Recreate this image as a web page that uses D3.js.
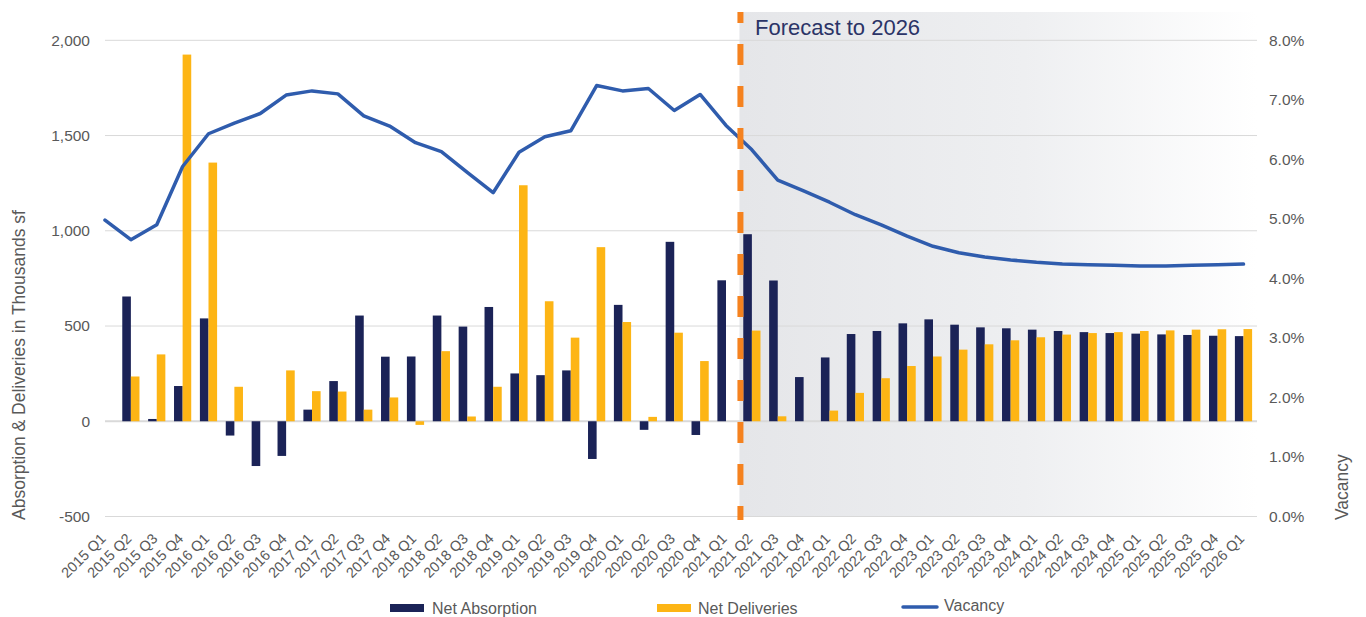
<!DOCTYPE html>
<html>
<head>
<meta charset="utf-8">
<script src="https://cdn.jsdelivr.net/npm/d3@7/dist/d3.min.js"></script>
<style>
  html, body { margin: 0; padding: 0; background: #ffffff; }
  svg { display: block; font-family: "Liberation Sans", Arial, sans-serif; }
</style>
</head>
<body>
<svg id="chart" width="1366" height="617"></svg>
<script>
// ---------------- data ----------------
const categories = [
  "2015 Q1","2015 Q2","2015 Q3","2015 Q4",
  "2016 Q1","2016 Q2","2016 Q3","2016 Q4",
  "2017 Q1","2017 Q2","2017 Q3","2017 Q4",
  "2018 Q1","2018 Q2","2018 Q3","2018 Q4",
  "2019 Q1","2019 Q2","2019 Q3","2019 Q4",
  "2020 Q1","2020 Q2","2020 Q3","2020 Q4",
  "2021 Q1","2021 Q2","2021 Q3","2021 Q4",
  "2022 Q1","2022 Q2","2022 Q3","2022 Q4",
  "2023 Q1","2023 Q2","2023 Q3","2023 Q4",
  "2024 Q1","2024 Q2","2024 Q3","2024 Q4",
  "2025 Q1","2025 Q2","2025 Q3","2025 Q4",
  "2026 Q1"
];
// thousands sf
const netAbsorption = [
  0, 655, 12, 185,
  540, -75, -235, -182,
  61, 211, 555, 339,
  340, 555, 497, 600,
  251, 242, 267, -198,
  611, -45, 942, -72,
  740, 982, 739, 232,
  335, 458, 474, 514,
  535, 507, 493, 488,
  481, 474, 468, 463,
  460, 456, 453, 449,
  447
];
const netDeliveries = [
  0, 235, 351, 1925,
  1358, 181, 0, 267,
  158, 156, 61, 125,
  -19, 368, 25, 181,
  1239, 630, 439, 914,
  521, 23, 465, 316,
  0, 476, 26, 0,
  56, 149, 226, 290,
  340, 376, 404, 425,
  441, 455, 463, 468,
  474, 477, 481, 483,
  484
];
// vacancy rate (%)
const vacancy = [
  4.98, 4.65, 4.90, 5.88,
  6.43, 6.61, 6.77, 7.08,
  7.15, 7.10, 6.73, 6.56,
  6.28, 6.13, 5.78, 5.44,
  6.12, 6.38, 6.48, 7.24,
  7.15, 7.19, 6.82, 7.09,
  6.57, 6.16, 5.65, 5.47,
  5.28, 5.07, 4.90, 4.71,
  4.54, 4.43, 4.36, 4.31,
  4.27, 4.24, 4.23, 4.22,
  4.21, 4.21, 4.22, 4.23,
  4.24
];
const leftTicks = [-500, 0, 500, 1000, 1500, 2000];
const rightTicks = [0, 1, 2, 3, 4, 5, 6, 7, 8];
const forecastStart = "2021 Q2";
const forecastLabel = "Forecast to 2026";
const leftTitle = "Absorption & Deliveries in Thousands sf";
const rightTitle = "Vacancy";
const legendItems = ["Net Absorption", "Net Deliveries", "Vacancy"];

// ---------------- styles ----------------
const C = {
  navy: "#1b2357",
  yellow: "#fdb515",
  line: "#2f5cad",
  orange: "#f5821f",
  grid: "#d9d9d9",
  text: "#595959",
  fc: "#2b3467"
};

const svg = d3.select("#chart");
const plotL = 105, plotR = 1257, plotT = 40.3, plotB = 516.5;

const x = d3.scalePoint().domain(categories).range([105, 1243.5]);
const step = x.step();
const yL = d3.scaleLinear().domain([-500, 2000]).range([plotB, plotT]);
const yR = d3.scaleLinear().domain([0, 8]).range([plotB, plotT]);
const barW = 8.6;

// gradient for forecast area
const defs = svg.append("defs");
const grad = defs.append("linearGradient").attr("id", "fcGrad")
  .attr("x1", "0%").attr("x2", "100%").attr("y1", "0%").attr("y2", "0%");
grad.append("stop").attr("offset", "0%").attr("stop-color", "#e5e6e9");
grad.append("stop").attr("offset", "55%").attr("stop-color", "#eeeff1");
grad.append("stop").attr("offset", "100%").attr("stop-color", "#ffffff");

const fcX = x(forecastStart) - step / 2 + 0.5;
svg.append("rect")
  .attr("x", fcX).attr("y", 12)
  .attr("width", plotR - fcX).attr("height", plotB - 12)
  .attr("fill", "url(#fcGrad)");

// gridlines
svg.append("g").selectAll("line").data(leftTicks).join("line")
  .attr("x1", plotL).attr("x2", plotR)
  .attr("y1", d => yL(d)).attr("y2", d => yL(d))
  .attr("stroke", C.grid)
  .attr("stroke-width", d => d === 0 ? 2 : 1);

// left axis labels
const fmtL = d => d3.format(",")(d).replace("\u2212", "-");
svg.append("g").selectAll("text").data(leftTicks).join("text")
  .attr("x", 90).attr("y", d => yL(d)).attr("dy", "0.35em")
  .attr("text-anchor", "end").attr("fill", C.text)
  .style("font-size", "15.5px")
  .text(fmtL);

// right axis labels
svg.append("g").selectAll("text").data(rightTicks).join("text")
  .attr("x", 1269).attr("y", d => yR(d)).attr("dy", "0.35em")
  .attr("text-anchor", "start").attr("fill", C.text)
  .style("font-size", "15.5px")
  .text(d => d3.format(".1f")(d) + "%");

// bars
const gBars = svg.append("g");
gBars.selectAll("rect.abs").data(categories).join("rect").attr("class", "abs")
  .attr("x", (d) => x(d) - barW)
  .attr("width", barW)
  .attr("y", (d, i) => Math.min(yL(netAbsorption[i]), yL(0)))
  .attr("height", (d, i) => Math.abs(yL(netAbsorption[i]) - yL(0)))
  .attr("fill", C.navy);
gBars.selectAll("rect.del").data(categories).join("rect").attr("class", "del")
  .attr("x", (d) => x(d))
  .attr("width", barW)
  .attr("y", (d, i) => Math.min(yL(netDeliveries[i]), yL(0)))
  .attr("height", (d, i) => Math.abs(yL(netDeliveries[i]) - yL(0)))
  .attr("fill", C.yellow);

// vacancy line
const line = d3.line()
  .x((d, i) => x(categories[i]))
  .y(d => yR(d));
svg.append("path").datum(vacancy)
  .attr("d", line)
  .attr("fill", "none")
  .attr("stroke", C.line)
  .attr("stroke-width", 3.5)
  .attr("stroke-linejoin", "round")
  .attr("stroke-linecap", "round");

// forecast dashed line
svg.append("line")
  .attr("x1", fcX + 1).attr("x2", fcX + 1)
  .attr("y1", 12).attr("y2", 520)
  .attr("stroke", C.orange).attr("stroke-width", 6)
  .attr("stroke-dasharray", "11,21,21,21,21,21,21,21,21,21,21,21,21,21,21,21,21,21,21,21,21,21,21,21,21,21");

svg.append("text")
  .attr("x", 755).attr("y", 35)
  .attr("fill", C.fc)
  .style("font-size", "22px")
  .text(forecastLabel);

// x axis labels
svg.append("g").selectAll("text").data(categories).join("text")
  .attr("transform", d => `translate(${x(d) + 1.7},${539.5}) rotate(-45)`)
  .attr("text-anchor", "end")
  .attr("fill", C.text)
  .style("font-size", "14.5px")
  .text(d => d);

// axis titles
svg.append("text")
  .attr("transform", "translate(24.5,520) rotate(-90)")
  .attr("text-anchor", "start")
  .attr("fill", C.text)
  .style("font-size", "17.5px")
  .text(leftTitle);
svg.append("text")
  .attr("transform", "translate(1347.5,520) rotate(-90)")
  .attr("text-anchor", "start")
  .attr("fill", C.text)
  .style("font-size", "17.5px")
  .text(rightTitle);

// legend
const lg = svg.append("g");
lg.append("rect").attr("x", 390).attr("y", 604).attr("width", 34).attr("height", 8).attr("fill", C.navy);
lg.append("text").attr("x", 432).attr("y", 614).attr("fill", C.text).style("font-size", "16px").text(legendItems[0]);
lg.append("rect").attr("x", 657).attr("y", 604).attr("width", 34).attr("height", 8).attr("fill", C.yellow);
lg.append("text").attr("x", 698).attr("y", 614).attr("fill", C.text).style("font-size", "16px").text(legendItems[1]);
lg.append("line").attr("x1", 903).attr("x2", 937).attr("y1", 607).attr("y2", 607)
  .attr("stroke", C.line).attr("stroke-width", 3.5).attr("stroke-linecap", "round");
lg.append("text").attr("x", 944).attr("y", 611).attr("fill", C.text).style("font-size", "16px").text(legendItems[2]);
</script>
</body>
</html>
